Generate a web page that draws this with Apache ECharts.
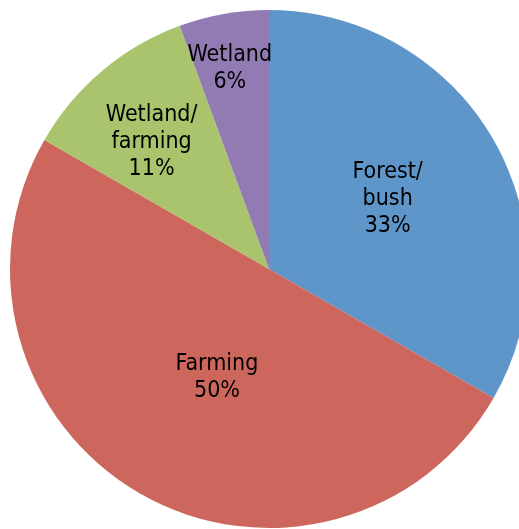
<!DOCTYPE html>
<html>
<head>
<meta charset="utf-8">
<script src="https://cdn.jsdelivr.net/npm/echarts@6/dist/echarts.min.js"></script>
<style>
html,body{margin:0;padding:0;background:#fff;}
#chart{width:519px;height:529px;}
</style>
</head>
<body>
<div id="chart"></div>
<script>
var categories = ["Forest/\nbush", "Farming", "Wetland/\nfarming", "Wetland"];
var values = [33.3, 50, 11.1, 5.6];
var colors = ["#5F96C9", "#CD675D", "#A9C46C", "#927BB2"];
var labelOffsets = [[4, -4], [14, -6], [-32, -26], [-16, -70]];

var chart = echarts.init(document.getElementById('chart'), null, {renderer: 'canvas'});
var data = categories.map(function (c, i) {
  return {
    name: c,
    value: values[i],
    itemStyle: {color: colors[i]},
    label: {offset: labelOffsets[i]}
  };
});
chart.setOption({
  animation: false,
  series: [{
    type: 'pie',
    center: [269, 269],
    radius: [0, 259],
    startAngle: 90,
    clockwise: true,
    percentPrecision: 0,
    itemStyle: {borderWidth: 0},
    label: {
      show: true,
      position: 'inner',
      formatter: '{b}\n{d}%',
      fontFamily: '"Liberation Sans Narrow", "DejaVu Sans Condensed", sans-serif',
      fontSize: 23,
      lineHeight: 27,
      color: '#000'
    },
    labelLine: {show: false},
    emphasis: {disabled: true},
    data: data
  }]
});
</script>
</body>
</html>
